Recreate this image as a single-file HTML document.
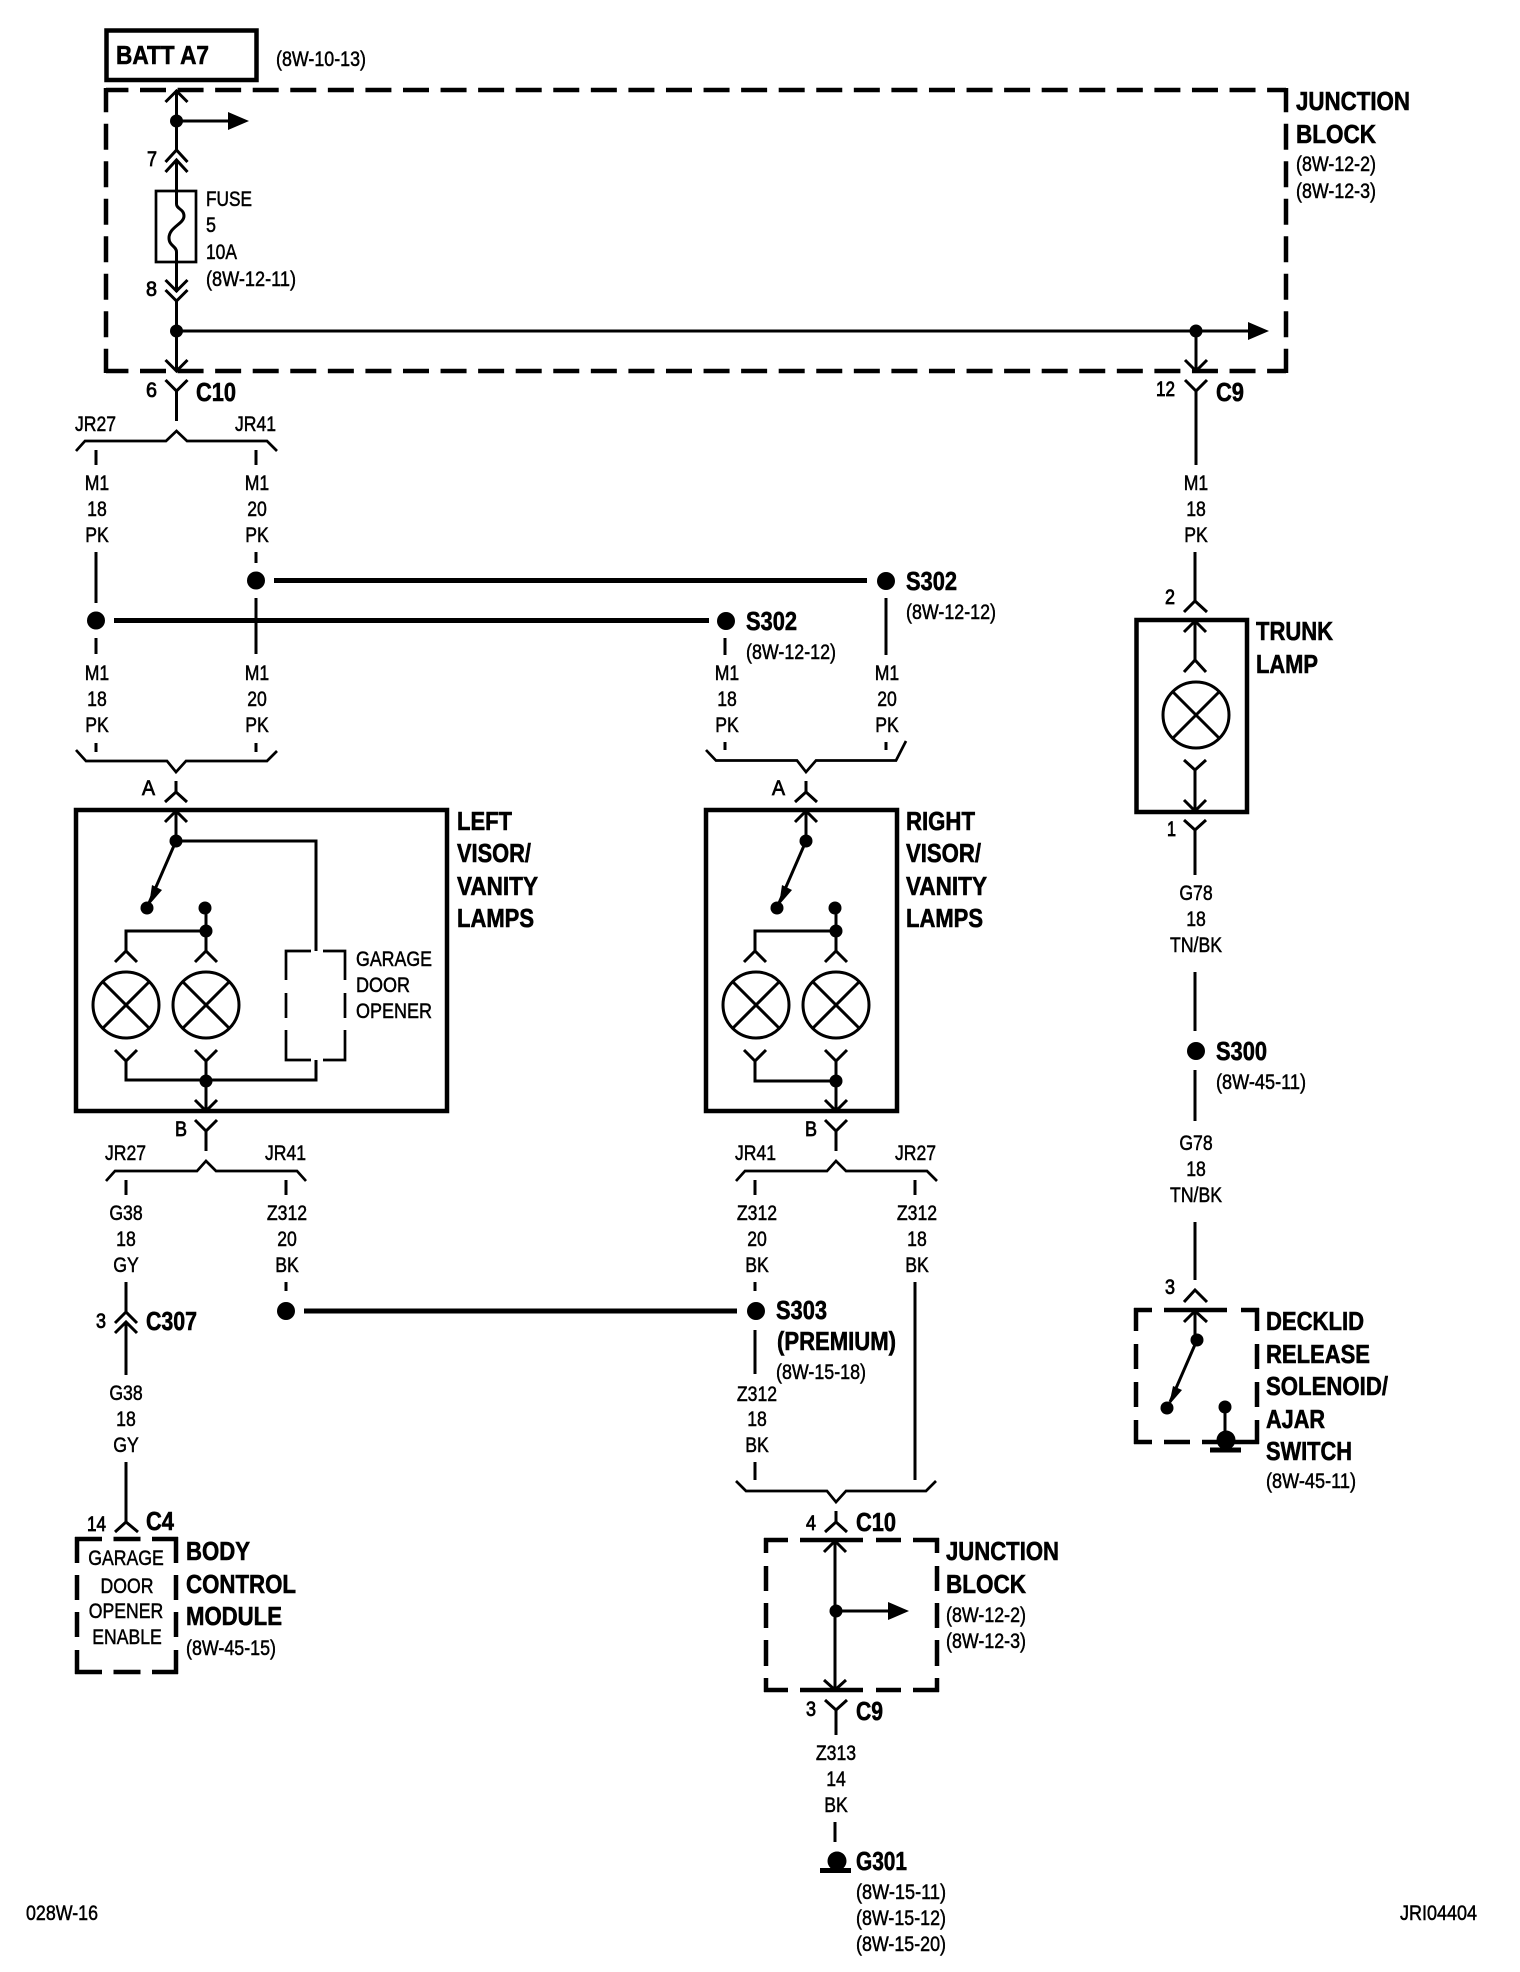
<!DOCTYPE html>
<html><head><meta charset="utf-8"><title>Wiring diagram</title>
<style>
html,body{margin:0;padding:0;background:#fff}
svg{display:block}
text{font-family:"Liberation Sans",sans-serif;fill:#000}
.n{font-size:21px;stroke:#000;stroke-width:.5}
.c{font-size:21px;stroke:#000;stroke-width:.5;text-anchor:middle;transform-box:fill-box;transform-origin:center;transform:scaleX(.84)}
.b{font-size:26px;font-weight:bold;stroke:#000;stroke-width:.6}
.p{font-size:21px;stroke:#000;stroke-width:.8}
.w{fill:none;stroke:#000;stroke-width:3}
.t{fill:none;stroke:#000;stroke-width:5}
.k{fill:none;stroke:#000;stroke-width:4.5}
.g{fill:none;stroke:#000;stroke-width:2.7}
</style></head><body>
<svg xmlns="http://www.w3.org/2000/svg" width="1520" height="1972" viewBox="0 0 1520 1972">
<rect width="1520" height="1972" fill="#fff"/>

<!-- BATT + top junction block -->
<rect class="k" x="106.5" y="30.5" width="150" height="49.5"/>
<path class="k" d="M106 90H1286" stroke-dasharray="26 11.57" stroke-dashoffset="3.57"/>
<path class="k" d="M106 371H1286" stroke-dasharray="26 11.57" stroke-dashoffset="3.57"/>
<path class="k" d="M106 88V373" stroke-dasharray="26 11.5" stroke-dashoffset="1.8"/>
<path class="k" d="M1286 88V373" stroke-dasharray="26 11.5" stroke-dashoffset="1.8"/>

<path class="w" d="M176.5 90V150M165.5 102L176.5 91L187.5 102M165.5 162L176.5 150L187.5 162M165.5 172L176.5 160L187.5 172M176.5 160V191"/>
<circle cx="176.5" cy="121" r="6.5"/>
<path class="w" d="M176.5 121H230"/><path d="M228 112L249 121L228 130Z"/>
<rect class="g" x="156" y="191" width="40" height="71"/>
<path class="w" d="M176.5 191V204C176.5 209 184 209 184 216C184 224 169 227 169 238C169 246 176.5 246 176.5 252V280"/>
<path class="w" d="M176.5 262V292M165.5 280L176.5 291L187.5 280M165.5 290L176.5 301L187.5 290M176.5 300V371M165.5 360L176.5 371L187.5 360"/>
<circle cx="176.5" cy="331" r="6.5"/>
<path class="w" d="M176.5 331H1250"/><path d="M1248 322L1269 331L1248 340Z"/>
<circle cx="1196" cy="331" r="6.5"/>
<path class="w" d="M1196 331V371M1185 360L1196 371L1207 360"/>

<path class="w" d="M165.5 380L176.5 391L187.5 380M176.5 391V421"/>
<path class="g" d="M76 451L85 441H166L176.5 431L187 441H267L277 451"/>
<path class="w" d="M96 450V465M256 450V465"/>

<!-- Wires & splices top-left -->
<path class="w" d="M96 552V603M96 638V654M256 552V563M256 598V654M96 743V752M256 743V752"/>
<circle cx="96" cy="620.5" r="9"/><circle cx="256" cy="580.5" r="9"/>
<path class="t" d="M114 620.5H709M274 580.5H867"/>
<circle cx="726" cy="621" r="9"/><circle cx="886" cy="581" r="9"/>
<path class="w" d="M725 638V655M886 598V655M725 742V750M886 742V750"/>

<!-- Left visor -->
<path class="g" d="M76 750L86 761H167L176 772L186 761H267L277 751"/>
<path class="w" d="M176 781V792M165 802L176 792L187 802"/>
<rect class="k" x="76" y="810" width="371" height="301"/>
<path class="w" d="M165 822L176 811L187 822M176 810V841H316V951M316 1060V1080H126V1061M115 1050L126 1061L137 1050M195 1050L206 1061L217 1050M206 1061V1111M195 1100L206 1111L217 1100"/>
<circle cx="176" cy="841" r="6.5"/><circle cx="147" cy="908" r="6.5"/><circle cx="205" cy="908" r="6.5"/><circle cx="206" cy="931" r="6.5"/><circle cx="206" cy="1081" r="6.5"/>
<path class="w" d="M176 841L149 903"/><path d="M149 905L162 890L152 885Z"/>
<path class="w" d="M206 908V951M206 931H126V951M115 962L126 951L137 962M195 962L206 951L217 962"/>
<circle class="w" cx="126" cy="1005" r="33"/><circle class="w" cx="206" cy="1005" r="33"/>
<path class="w" d="M103 982L149 1028M149 982L103 1028M183 982L229 1028M229 982L183 1028"/>
<path class="g" d="M286 980V951H311M323 951H345V980M286 993V1018M345 993V1018M286 1030V1060H311M323 1060H345V1030"/>
<path class="w" d="M195 1120L206 1131L217 1120M206 1131V1151"/>
<path class="g" d="M106 1181L115 1171H197L206 1161L216 1171H297L306 1181"/>
<path class="w" d="M126 1180V1195M286 1180V1195"/>

<!-- Right visor -->
<path class="g" d="M706 750L716 760.5H797L806 772L816 760.5H896L906 741"/>
<path class="w" d="M806 781V792M795 802L806 792L817 802"/>
<rect class="k" x="706" y="810" width="191" height="301"/>
<path class="w" d="M795 822L806 811L817 822M806 810V841"/>
<circle cx="806" cy="841" r="6.5"/><circle cx="777" cy="908" r="6.5"/><circle cx="835" cy="908" r="6.5"/><circle cx="836" cy="931" r="6.5"/><circle cx="836" cy="1081" r="6.5"/>
<path class="w" d="M806 841L779 903"/><path d="M779 905L792 890L782 885Z"/>
<path class="w" d="M836 908V951M836 931H755V951M744 962L755 951L766 962M825 962L836 951L847 962"/>
<circle class="w" cx="756" cy="1005" r="33"/><circle class="w" cx="836" cy="1005" r="33"/>
<path class="w" d="M733 982L779 1028M779 982L733 1028M813 982L859 1028M859 982L813 1028"/>
<path class="w" d="M744 1050L755 1061L766 1050M755 1061V1081H836M825 1050L836 1061L847 1050M836 1061V1111M825 1100L836 1111L847 1100"/>
<path class="w" d="M825 1120L836 1131L847 1120M836 1131V1151"/>
<path class="g" d="M736 1181L745 1171H827L836 1161L846 1171H927L937 1181"/>
<path class="w" d="M755 1180V1195M915 1180V1195"/>

<!-- S303 -->
<path class="w" d="M286 1282V1291M755 1282V1291M755 1330V1374M755 1462V1480M915 1282V1480"/>
<circle cx="286" cy="1311" r="9"/><circle cx="756" cy="1311" r="9"/>
<path class="t" d="M304 1311H737"/>

<!-- C307 / BCM -->
<path class="w" d="M126 1282V1312M115 1323L126 1312L137 1323M115 1333L126 1322L137 1333M126 1322V1375M126 1462V1522M115 1532L126 1522L138 1532"/>
<path class="k" d="M75 1539H178" stroke-dasharray="27 11.5"/>
<path class="k" d="M75 1672H178" stroke-dasharray="27 11.5"/>
<path class="k" d="M77 1537V1563M77 1575V1600M77 1612V1637M77 1650V1674M176 1537V1563M176 1575V1600M176 1612V1637M176 1650V1674"/>

<!-- Bottom junction block -->
<path class="g" d="M736 1481L746 1491H827L836 1502L846 1491H926L936 1481"/>
<path class="w" d="M836 1511V1522M825 1532L836 1522L847 1532"/>
<path class="k" d="M764 1540H788M800 1540H863M876 1540H901M913 1540H939M764 1690H788M800 1690H863M876 1690H901M913 1690H939M766 1538V1553M766 1566V1591M766 1603V1628M766 1640V1666M766 1678V1692M937 1538V1553M937 1566V1591M937 1603V1628M937 1640V1666M937 1678V1692"/>
<path class="w" d="M835 1540V1690M824 1552L835 1541L846 1552M824 1680L835 1690L846 1680"/>
<circle cx="836" cy="1611" r="6.5"/>
<path class="w" d="M836 1611H890"/><path d="M888 1602L909 1611L888 1620Z"/>
<path class="w" d="M825 1700L836 1710L847 1700M836 1710V1735M835 1822V1842"/>
<circle cx="837" cy="1861" r="9.5"/>
<path class="t" d="M820 1870.5H851"/>

<!-- Right column -->
<path class="w" d="M1185 380L1196 391L1207 380M1196 391V465M1195 552V601M1184 612L1195 601L1207 612"/>
<rect class="k" x="1136.5" y="620" width="110.5" height="192"/>
<path class="w" d="M1184 632L1195 621L1206 632M1195 620V660M1184 672L1195 660L1206 672"/>
<circle class="w" cx="1196" cy="715" r="33"/>
<path class="w" d="M1173 692L1219 738M1219 692L1173 738"/>
<path class="w" d="M1184 760L1195 770L1206 760M1195 770V812M1184 800L1195 811L1206 800M1184 820L1195 830L1206 820M1195 830V875M1195 972V1031M1195 1070V1121M1195 1222V1280"/>
<circle cx="1196" cy="1051" r="9"/>
<path class="w" d="M1184 1302L1195 1290L1207 1302M1184 1322L1195 1311L1207 1322M1195 1310V1340"/>
<path class="k" d="M1134 1310H1152M1164 1310H1227M1241 1310H1259M1134 1442H1152M1164 1442H1190M1202 1442H1259M1136 1308V1331M1136 1344V1369M1136 1382V1407M1136 1420V1444M1257 1308V1331M1257 1344V1369M1257 1382V1407M1257 1420V1444"/>
<circle cx="1197" cy="1340" r="6.5"/><circle cx="1167" cy="1408" r="6.5"/><circle cx="1225" cy="1407" r="6.5"/>
<path class="w" d="M1197 1340L1170 1402M1225 1407V1441"/><path d="M1169 1405L1182 1390L1173 1386Z"/>
<circle cx="1226" cy="1440" r="9.5"/>
<path class="t" d="M1210 1450H1241"/>

<!-- Bold labels -->
<g transform="translate(-1,0)">
<text class="b" x="117" y="64" textLength="93" lengthAdjust="spacingAndGlyphs">BATT A7</text>
<text class="b" x="1297" y="110" textLength="114" lengthAdjust="spacingAndGlyphs">JUNCTION</text>
<text class="b" x="1297" y="143" textLength="80" lengthAdjust="spacingAndGlyphs">BLOCK</text>
<text class="b" x="197" y="401" textLength="40" lengthAdjust="spacingAndGlyphs">C10</text>
<text class="b" x="1217" y="401" textLength="28" lengthAdjust="spacingAndGlyphs">C9</text>
<text class="b" x="747" y="630" textLength="51" lengthAdjust="spacingAndGlyphs">S302</text>
<text class="b" x="907" y="590" textLength="51" lengthAdjust="spacingAndGlyphs">S302</text>
<text class="b" x="1257" y="640" textLength="77" lengthAdjust="spacingAndGlyphs">TRUNK</text>
<text class="b" x="1257" y="673" textLength="62" lengthAdjust="spacingAndGlyphs">LAMP</text>
<text class="b" x="458" y="830" textLength="55" lengthAdjust="spacingAndGlyphs">LEFT</text>
<text class="b" x="458" y="862" textLength="74" lengthAdjust="spacingAndGlyphs">VISOR/</text>
<text class="b" x="458" y="895" textLength="81" lengthAdjust="spacingAndGlyphs">VANITY</text>
<text class="b" x="458" y="927" textLength="77" lengthAdjust="spacingAndGlyphs">LAMPS</text>
<text class="b" x="907" y="830" textLength="69" lengthAdjust="spacingAndGlyphs">RIGHT</text>
<text class="b" x="907" y="862" textLength="75" lengthAdjust="spacingAndGlyphs">VISOR/</text>
<text class="b" x="907" y="895" textLength="81" lengthAdjust="spacingAndGlyphs">VANITY</text>
<text class="b" x="907" y="927" textLength="77" lengthAdjust="spacingAndGlyphs">LAMPS</text>
<text class="b" x="1217" y="1060" textLength="51" lengthAdjust="spacingAndGlyphs">S300</text>
<text class="b" x="777" y="1319" textLength="51" lengthAdjust="spacingAndGlyphs">S303</text>
<text class="b" x="778" y="1350" textLength="119" lengthAdjust="spacingAndGlyphs">(PREMIUM)</text>
<text class="b" x="147" y="1330" textLength="51" lengthAdjust="spacingAndGlyphs">C307</text>
<text class="b" x="147" y="1530" textLength="28" lengthAdjust="spacingAndGlyphs">C4</text>
<text class="b" x="187" y="1560" textLength="64" lengthAdjust="spacingAndGlyphs">BODY</text>
<text class="b" x="187" y="1593" textLength="110" lengthAdjust="spacingAndGlyphs">CONTROL</text>
<text class="b" x="187" y="1625" textLength="96" lengthAdjust="spacingAndGlyphs">MODULE</text>
<text class="b" x="857" y="1531" textLength="40" lengthAdjust="spacingAndGlyphs">C10</text>
<text class="b" x="857" y="1720" textLength="27" lengthAdjust="spacingAndGlyphs">C9</text>
<text class="b" x="857" y="1870" textLength="51" lengthAdjust="spacingAndGlyphs">G301</text>
<text class="b" x="947" y="1560" textLength="113" lengthAdjust="spacingAndGlyphs">JUNCTION</text>
<text class="b" x="947" y="1593" textLength="80" lengthAdjust="spacingAndGlyphs">BLOCK</text>
<text class="b" x="1267" y="1330" textLength="98" lengthAdjust="spacingAndGlyphs">DECKLID</text>
<text class="b" x="1267" y="1363" textLength="104" lengthAdjust="spacingAndGlyphs">RELEASE</text>
<text class="b" x="1267" y="1395" textLength="122" lengthAdjust="spacingAndGlyphs">SOLENOID/</text>
<text class="b" x="1267" y="1428" textLength="59" lengthAdjust="spacingAndGlyphs">AJAR</text>
<text class="b" x="1267" y="1460" textLength="86" lengthAdjust="spacingAndGlyphs">SWITCH</text>

<!-- References -->
<text class="n" x="277" y="66" textLength="90" lengthAdjust="spacingAndGlyphs">(8W-10-13)</text>
<text class="n" x="1297" y="171" textLength="80" lengthAdjust="spacingAndGlyphs">(8W-12-2)</text>
<text class="n" x="1297" y="198" textLength="80" lengthAdjust="spacingAndGlyphs">(8W-12-3)</text>
<text class="n" x="207" y="206" textLength="46" lengthAdjust="spacingAndGlyphs">FUSE</text>
<text class="n" x="207" y="232" textLength="10" lengthAdjust="spacingAndGlyphs">5</text>
<text class="n" x="207" y="259" textLength="31" lengthAdjust="spacingAndGlyphs">10A</text>
<text class="n" x="207" y="286" textLength="90" lengthAdjust="spacingAndGlyphs">(8W-12-11)</text>
<text class="n" x="747" y="659" textLength="90" lengthAdjust="spacingAndGlyphs">(8W-12-12)</text>
<text class="n" x="907" y="619" textLength="90" lengthAdjust="spacingAndGlyphs">(8W-12-12)</text>
<text class="n" x="1217" y="1089" textLength="90" lengthAdjust="spacingAndGlyphs">(8W-45-11)</text>
<text class="n" x="777" y="1379" textLength="90" lengthAdjust="spacingAndGlyphs">(8W-15-18)</text>
<text class="n" x="187" y="1655" textLength="90" lengthAdjust="spacingAndGlyphs">(8W-45-15)</text>
<text class="n" x="947" y="1622" textLength="80" lengthAdjust="spacingAndGlyphs">(8W-12-2)</text>
<text class="n" x="947" y="1648" textLength="80" lengthAdjust="spacingAndGlyphs">(8W-12-3)</text>
<text class="n" x="1267" y="1488" textLength="90" lengthAdjust="spacingAndGlyphs">(8W-45-11)</text>
<text class="n" x="857" y="1899" textLength="90" lengthAdjust="spacingAndGlyphs">(8W-15-11)</text>
<text class="n" x="857" y="1925" textLength="90" lengthAdjust="spacingAndGlyphs">(8W-15-12)</text>
<text class="n" x="857" y="1951" textLength="90" lengthAdjust="spacingAndGlyphs">(8W-15-20)</text>
<text class="n" x="27" y="1920" textLength="72" lengthAdjust="spacingAndGlyphs">028W-16</text>
<text class="n" x="1401" y="1920" textLength="77" lengthAdjust="spacingAndGlyphs">JRI04404</text>

<!-- Pin labels -->
<text class="p" x="148" y="166" textLength="10" lengthAdjust="spacingAndGlyphs">7</text>
<text class="p" x="147" y="296" textLength="11" lengthAdjust="spacingAndGlyphs">8</text>
<text class="p" x="147" y="397" textLength="11" lengthAdjust="spacingAndGlyphs">6</text>
<text class="p" x="1157" y="396" textLength="19" lengthAdjust="spacingAndGlyphs">12</text>
<text class="p" x="1166" y="604" textLength="10" lengthAdjust="spacingAndGlyphs">2</text>
<text class="p" x="1168" y="836" textLength="9" lengthAdjust="spacingAndGlyphs">1</text>
<text class="p" x="1166" y="1294" textLength="10" lengthAdjust="spacingAndGlyphs">3</text>
<text class="p" x="143" y="795" textLength="13" lengthAdjust="spacingAndGlyphs">A</text>
<text class="p" x="773" y="795" textLength="13" lengthAdjust="spacingAndGlyphs">A</text>
<text class="p" x="176" y="1136" textLength="12" lengthAdjust="spacingAndGlyphs">B</text>
<text class="p" x="806" y="1136" textLength="12" lengthAdjust="spacingAndGlyphs">B</text>
<text class="p" x="97" y="1328" textLength="10" lengthAdjust="spacingAndGlyphs">3</text>
<text class="p" x="88" y="1531" textLength="19" lengthAdjust="spacingAndGlyphs">14</text>
<text class="p" x="807" y="1530" textLength="10" lengthAdjust="spacingAndGlyphs">4</text>
<text class="p" x="807" y="1716" textLength="10" lengthAdjust="spacingAndGlyphs">3</text>

<!-- JR labels -->
<text class="n" x="76" y="431" textLength="41" lengthAdjust="spacingAndGlyphs">JR27</text>
<text class="n" x="236" y="431" textLength="41" lengthAdjust="spacingAndGlyphs">JR41</text>
<text class="n" x="106" y="1160" textLength="41" lengthAdjust="spacingAndGlyphs">JR27</text>
<text class="n" x="266" y="1160" textLength="41" lengthAdjust="spacingAndGlyphs">JR41</text>
<text class="n" x="736" y="1160" textLength="41" lengthAdjust="spacingAndGlyphs">JR41</text>
<text class="n" x="896" y="1160" textLength="41" lengthAdjust="spacingAndGlyphs">JR27</text>
<text class="n" x="357" y="966" textLength="76" lengthAdjust="spacingAndGlyphs">GARAGE</text>
<text class="n" x="357" y="992" textLength="54" lengthAdjust="spacingAndGlyphs">DOOR</text>
<text class="n" x="357" y="1018" textLength="76" lengthAdjust="spacingAndGlyphs">OPENER</text>
</g>

<!-- Wire labels -->
<g>
<text class="c" x="97" y="490">M1</text><text class="c" x="97" y="516">18</text><text class="c" x="97" y="542">PK</text>
<text class="c" x="257" y="490">M1</text><text class="c" x="257" y="516">20</text><text class="c" x="257" y="542">PK</text>
<text class="c" x="97" y="680">M1</text><text class="c" x="97" y="706">18</text><text class="c" x="97" y="732">PK</text>
<text class="c" x="257" y="680">M1</text><text class="c" x="257" y="706">20</text><text class="c" x="257" y="732">PK</text>
<text class="c" x="727" y="680">M1</text><text class="c" x="727" y="706">18</text><text class="c" x="727" y="732">PK</text>
<text class="c" x="887" y="680">M1</text><text class="c" x="887" y="706">20</text><text class="c" x="887" y="732">PK</text>
<text class="c" x="1196" y="490">M1</text><text class="c" x="1196" y="516">18</text><text class="c" x="1196" y="542">PK</text>
<text class="c" x="1196" y="900">G78</text><text class="c" x="1196" y="926">18</text><text class="c" x="1196" y="952">TN/BK</text>
<text class="c" x="1196" y="1150">G78</text><text class="c" x="1196" y="1176">18</text><text class="c" x="1196" y="1202">TN/BK</text>
<text class="c" x="126" y="1220">G38</text><text class="c" x="126" y="1246">18</text><text class="c" x="126" y="1272">GY</text>
<text class="c" x="287" y="1220">Z312</text><text class="c" x="287" y="1246">20</text><text class="c" x="287" y="1272">BK</text>
<text class="c" x="757" y="1220">Z312</text><text class="c" x="757" y="1246">20</text><text class="c" x="757" y="1272">BK</text>
<text class="c" x="917" y="1220">Z312</text><text class="c" x="917" y="1246">18</text><text class="c" x="917" y="1272">BK</text>
<text class="c" x="757" y="1401">Z312</text><text class="c" x="757" y="1426">18</text><text class="c" x="757" y="1452">BK</text>
<text class="c" x="126" y="1400">G38</text><text class="c" x="126" y="1426">18</text><text class="c" x="126" y="1452">GY</text>
<text class="c" x="836" y="1760">Z313</text><text class="c" x="836" y="1786">14</text><text class="c" x="836" y="1812">BK</text>
<text class="c" x="126" y="1565">GARAGE</text>
<text class="c" x="127" y="1593">DOOR</text>
<text class="c" x="126" y="1618">OPENER</text>
<text class="c" x="127" y="1644">ENABLE</text>
</g>
</svg>
</body></html>
